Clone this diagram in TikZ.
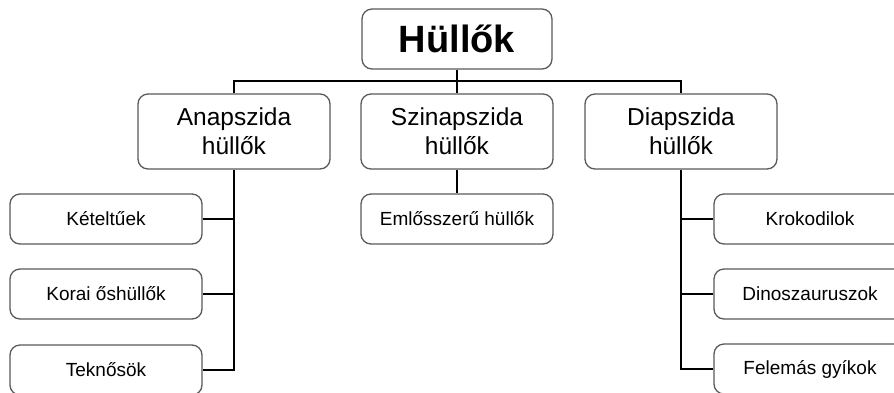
\documentclass[tikz,border=0pt]{standalone}
\usepackage{fontspec}
\setmainfont{Liberation Sans}
\definecolor{boxline}{HTML}{5A5A5A}
\begin{document}
\begin{tikzpicture}[x=1pt,y=-1pt,
  box/.style={draw=boxline,line width=1.3pt,fill=white,rounded corners=10pt,inner sep=0pt,align=center},
  topbox/.style={box,minimum width=190pt,minimum height=60pt,font=\fontsize{38}{40}\selectfont\bfseries},
  midbox/.style={box,minimum width=192pt,minimum height=75pt,font=\fontsize{24.5}{29}\selectfont},
  leafbox/.style={box,minimum width=192pt,minimum height=50pt,font=\fontsize{19}{22}\selectfont},
  conn/.style={draw=black,line width=2pt}]
\useasboundingbox (0,0) rectangle (894,392);
\clip (0,0) rectangle (894,392);
\fill[white] (0,0) rectangle (894,392);
% nodes
\node[topbox] (top) at (457,39) {Hüllők};
\node[midbox] (ana) at (234,131.5) {Anapszida\\hüllők};
\node[midbox] (szi) at (457,131.5) {Szinapszida\\hüllők};
\node[midbox] (dia) at (681,131.5) {Diapszida\\hüllők};
\node[leafbox] (l1) at (106,219) {Kételtűek};
\node[leafbox] (l2) at (106,294) {Korai őshüllők};
\node[leafbox] (l3) at (106,370) {Teknősök};
\node[leafbox] (m1) at (457,219) {Emlősszerű hüllők};
\node[leafbox] (r1) at (810,219) {Krokodilok};
\node[leafbox] (r2) at (810,294) {Dinoszauruszok};
\node[leafbox] (r3) at (810,369) {Felemás gyíkok};
\coordinate (bar) at (457,81);
% connectors
\draw[conn] (top.south) -- (szi.north);
\draw[conn] (ana.north) |- (bar) -| (dia.north);
\draw[conn] (ana.south) |- (l3.east);
\draw[conn] (l1.east) -- (l1.east -| ana.south);
\draw[conn] (l2.east) -- (l2.east -| ana.south);
\draw[conn] (szi.south) -- (m1.north);
\draw[conn] (dia.south) |- (r3.west);
\draw[conn] (r1.west) -- (r1.west -| dia.south);
\draw[conn] (r2.west) -- (r2.west -| dia.south);
\end{tikzpicture}
\end{document}
